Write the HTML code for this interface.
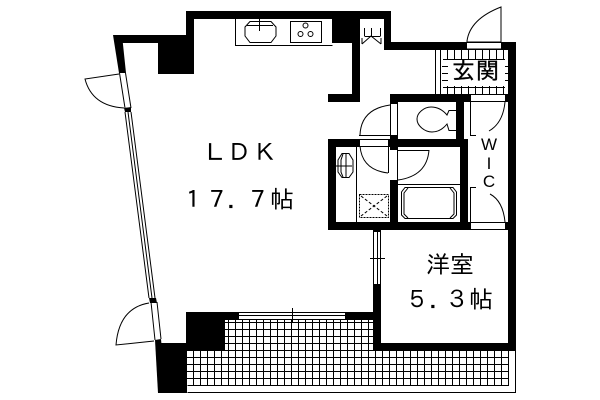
<!DOCTYPE html>
<html><head><meta charset="utf-8"><style>
html,body{margin:0;padding:0;background:#fff}
svg{display:block}
text{fill:#000;font-family:"IPAGothic","Liberation Sans","Noto Sans CJK JP",sans-serif}
</style></head><body>
<svg width="600" height="400" viewBox="0 0 600 400" xmlns="http://www.w3.org/2000/svg">
<rect width="600" height="400" fill="#fff"/>
<!-- balcony grid -->
<g stroke="#000" stroke-width="1" shape-rendering="crispEdges">
<path d="M187.5 392.5H515.5V351M187.5 385.5H508.5V351" fill="none"/>
<path d="M225 322.5H373M225 329.5H373M225 336.5H373M225 343.5H373M187 350.5H508M187 357.5H508M187 364.5H508M187 371.5H508M187 378.5H508" fill="none"/>
<path d="M193.5 350V385M200.5 350V385M207.5 350V385M214.5 350V385M221.5 350V385M228.5 320V385M235.5 320V385M242.5 320V385M249.5 320V385M256.5 320V385M263.5 320V385M270.5 320V385M277.5 320V385M284.5 320V385M291.5 320V385M298.5 320V385M305.5 320V385M312.5 320V385M319.5 320V385M326.5 320V385M333.5 320V385M340.5 320V385M347.5 320V385M354.5 320V385M361.5 320V385M368.5 320V385M375.5 351V385M382.5 351V385M389.5 351V385M396.5 351V385M403.5 351V385M410.5 351V385M417.5 351V385M424.5 351V385M431.5 351V385M438.5 351V385M445.5 351V385M452.5 351V385M459.5 351V385M466.5 351V385M473.5 351V385M480.5 351V385M487.5 351V385M494.5 351V385M501.5 351V385" fill="none"/>
<!-- balcony sash -->
<path d="M239 312.5H345M239 315.5H345M239 319.5H345M292.5 308V322" fill="none"/>
</g>
<!-- walls -->
<g fill="#000" shape-rendering="crispEdges">
<rect x="186" y="11" width="205" height="8"/>
<rect x="186" y="11" width="8" height="32"/>
<rect x="117" y="35" width="77" height="8"/>
<rect x="158" y="35" width="36" height="39"/>
<rect x="332" y="19" width="28" height="24"/>
<rect x="352" y="19" width="8" height="83"/>
<rect x="328" y="94" width="32" height="8"/>
<rect x="384" y="19" width="7" height="30"/>
<rect x="384" y="42" width="132" height="8"/>
<rect x="508" y="42" width="8" height="309"/>
<rect x="390" y="94" width="126" height="8"/>
<rect x="456" y="94" width="8" height="46"/>
<rect x="390" y="94" width="8" height="10"/>
<rect x="328" y="139" width="140" height="8"/>
<rect x="328" y="139" width="8" height="91"/>
<rect x="328" y="222" width="188" height="8"/>
<rect x="460" y="139" width="8" height="91"/>
<rect x="390" y="135" width="8" height="15"/>
<rect x="390" y="180" width="8" height="50"/>
<rect x="373" y="229" width="8" height="3"/>
<rect x="373" y="284" width="8" height="67"/>
<rect x="345" y="312" width="36" height="8"/>
<rect x="373" y="343" width="143" height="8"/>
<rect x="186" y="312" width="53" height="8"/>
<rect x="186" y="312" width="39" height="38"/>
<rect x="160" y="343" width="27" height="50"/>
</g>
<polygon points="113,35 122,35 126,73 119,73" fill="#000"/>
<polygon points="124,108 131,107 131,112 125,112" fill="#000"/>
<polygon points="149,298 156,298 157,303 150,303" fill="#000"/>
<polygon points="155,340 161,339 162,350 160,393 158,393" fill="#000"/>
<!-- openings -->
<g fill="#fff" shape-rendering="crispEdges">
<rect x="360" y="19" width="24" height="9"/>
<rect x="467" y="43" width="34" height="6"/>
<rect x="471" y="95" width="34" height="6"/>
<rect x="471" y="223" width="34" height="6"/>
<rect x="360" y="140" width="28" height="6"/>
</g>
<g fill="none" stroke="#000" stroke-width="1">
<!-- left windows & doors -->
<path d="M119.5 73L125 108M125.5 73L131 108"/>
<path d="M125 112L149 298M128 112L152 298M131 112L155 298"/>
<path d="M119 74L85 79Q92 106 124 108"/>
<path d="M151 302L155 340M157 302L161 339"/>
<path d="M149 303Q119 308 116 345L154 341"/>
<!-- entry door -->
<path d="M467 43V41Q470 19 501 7V42M467 42H501M467 49H501" />
<!-- closet -->
<g shape-rendering="crispEdges"><path d="M364.5 28V36M380.5 28V36M364.5 36.5H380.5M371.5 28V36"/></g>
<path d="M362 44L371 36L381 44M362 38V44M381 38V44"/>
<!-- kitchen -->
<g shape-rendering="crispEdges">
<path d="M235.5 19V45.5H332.5M290.5 21.5H321.5V42.5H290.5Z"/>
<path d="M259.5 19V31"/>
</g>
<path d="M250 21.5H271L276 27V36L271 42.5H250L245 36V27Z"/>
<path d="M247 25.5H273"/>
<circle cx="305.5" cy="25.5" r="2.5"/><circle cx="300.5" cy="34" r="2.5"/><circle cx="310.5" cy="34" r="2.5"/>
<!-- genkan tiles -->
<g shape-rendering="crispEdges">
<path d="M435.5 50V94M440.5 50V94M443 59.5H505M443 87.5H505M442 66.5H448M442 73.5H448M442 80.5H448M505 66.5H508M505 73.5H508M505 80.5H508"/>
<path d="M447.5 50V59M454.5 50V59M461.5 50V59M468.5 50V59M475.5 50V59M482.5 50V59M489.5 50V59M496.5 50V59M503.5 50V59M447.5 86V94M454.5 86V94M461.5 86V94M468.5 86V94M475.5 86V94M482.5 86V94M489.5 86V94M496.5 86V94M503.5 86V94"/>
</g>
<!-- toilet door -->
<g shape-rendering="crispEdges"><path d="M390.5 104V135M397.5 104V135M359 135.5H391"/></g>
<path d="M390 105Q361 109 360 135"/>
<!-- toilet -->
<path d="M456 110.5H449L447 115C442 109 436 107 431 107C424 107 417 113 417 119C417 126 425 132 432 132C438 132 443 129 447 124L449 130.5H456"/>
<!-- washroom door -->
<g shape-rendering="crispEdges"><path d="M388.5 146V173M356.5 147V222"/></g>
<path d="M360 146Q362 170 388 173"/>
<!-- bath door -->
<g shape-rendering="crispEdges"><path d="M397.5 150V180M398 150.5H429M398 184.5H460"/></g>
<path d="M429 150Q427 176 398 180"/>
<!-- bathtub -->
<path d="M405 187.5H453L456.5 192V215L453 218.5H405L401.5 215V192Z"/>
<path d="M408 188L404 193V214L408 218M450 188L454 193V214L450 218"/>
<!-- sink -->
<path d="M342 153.5H349L353 160V172L349 177.5H342L338 172V160Z"/>
<path d="M343 154L341 160V172L343 177M336 166H352M346 153V178"/>
<!-- shower pan -->
<g stroke-dasharray="2 1" shape-rendering="crispEdges"><rect x="359.5" y="194.5" width="29" height="23"/></g>
<path d="M361 196L387 216M387 196L361 216" stroke-dasharray="3 2"/>
<!-- WIC doors -->
<g shape-rendering="crispEdges"><path d="M470.5 102V135.5H476M470.5 187.5H476M470.5 187V222"/></g>
<path d="M505 102Q503 123 489 131"/>
<path d="M490 194Q503 201 505 222"/>
<!-- right room window -->
<g shape-rendering="crispEdges"><path d="M373.5 232V284M377.5 232V284M380.5 232V284M370 258.5H385"/></g>
</g>
<!-- labels -->
<g font-size="24">
<text x="203" y="161">Ｌ</text><text x="227" y="161">Ｄ</text><text x="253" y="161">Ｋ</text>
<text x="181" y="208">１</text><text x="205" y="208">７</text><text x="227" y="208">．</text><text x="246" y="208">７</text><text x="270" y="208">帖</text>
<text x="426" y="273">洋</text><text x="450" y="273">室</text>
<text x="405" y="308">５</text><text x="429" y="308">．</text><text x="445" y="308">３</text><text x="469" y="308">帖</text>
<text x="452" y="79" style="font-size:23px;stroke:#000;stroke-width:.3">玄</text><text x="476" y="79" style="font-size:23px;stroke:#000;stroke-width:.3">関</text>
</g>
<g text-anchor="middle" style="font-size:17px">
<text x="489" y="150" style="font-family:'Liberation Sans',sans-serif">W</text><text x="489" y="169" style="font-family:'Liberation Sans',sans-serif">I</text><text x="489" y="187" style="font-family:'Liberation Sans',sans-serif">C</text>
</g>
</svg>
</body></html>
